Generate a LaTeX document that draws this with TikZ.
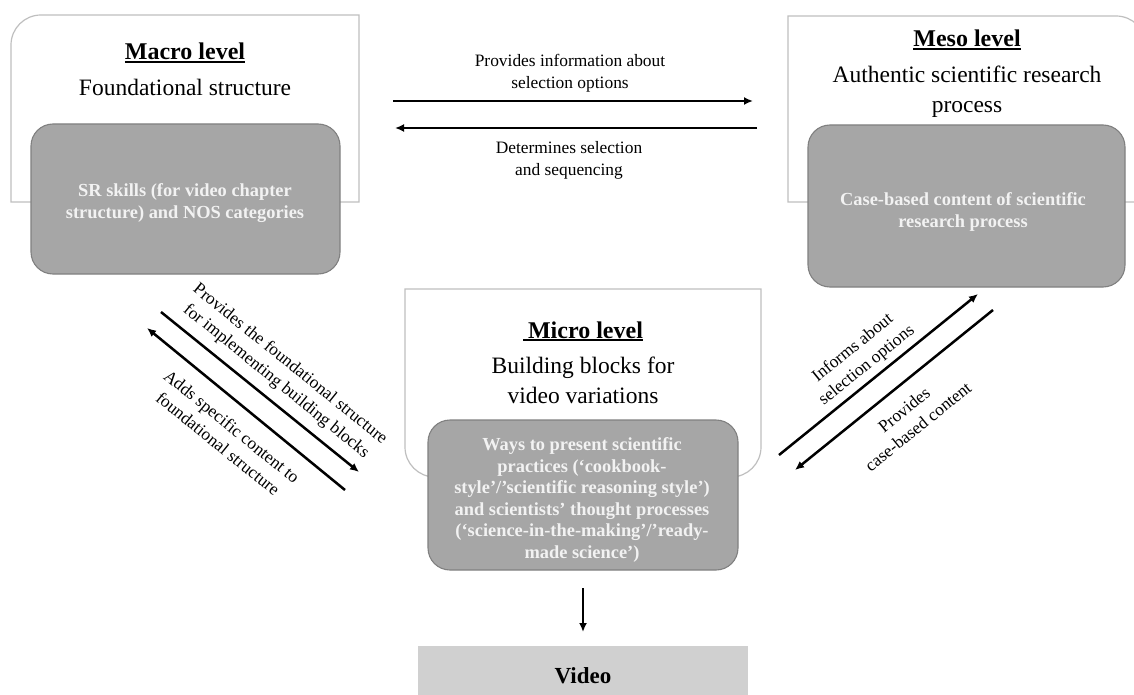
\documentclass[tikz,border=0pt]{standalone}
\usepackage{fontspec}
\setmainfont{Liberation Serif}
\usetikzlibrary{arrows.meta}
\definecolor{outerline}{HTML}{BFBFBF}
\definecolor{innerfill}{HTML}{A6A6A6}
\definecolor{innerline}{HTML}{808080}
\definecolor{innertext}{HTML}{F2F2F2}
\definecolor{videofill}{HTML}{D0D0D0}
\newcommand{\myul}[1]{\setbox0\hbox{#1}\rlap{\rule[-2.6pt]{\wd0}{1.6pt}}\box0}
\begin{document}
\begin{tikzpicture}[x=1pt,y=-1pt,
 outerbox/.style={draw=outerline,line width=1.2pt,fill=white},
 innerbox/.style={draw=innerline,line width=1.1pt,fill=innerfill,rounded corners=22pt,inner sep=0pt},
 innertxt/.style={text=innertext,font=\fontsize{18.4}{21.5}\selectfont\bfseries,align=center,inner sep=0pt},
 leveltitle/.style={font=\fontsize{24}{28}\selectfont\bfseries,inner sep=0pt,anchor=base},
 subtitle/.style={font=\fontsize{23.5}{30}\selectfont,align=center,inner sep=0pt},
 lbl/.style={font=\fontsize{17.4}{22}\selectfont,align=center,inner sep=0pt},
 arr/.style={line width=2.5pt,-{Latex[length=9pt,width=8pt]}},
]
\useasboundingbox (0,0) rectangle (1134,695);
\clip (0,0) rectangle (1134,695);

% outer boxes
\path[outerbox] (11,202) -- (11,45) .. controls (11,28.4) and (24.4,15) .. (41,15) -- (359,15) -- (359,202) -- cycle;
\path[outerbox] (788,202) -- (788,16) -- (1116,16) .. controls (1132.6,16) and (1146,29.4) .. (1146,46) -- (1146,202) -- cycle;
\path[outerbox] (405,289) -- (405,447) .. controls (405,463.6) and (418.4,477) .. (435,477) -- (731,477) .. controls (747.6,477) and (761,463.6) .. (761,447) -- (761,289) -- cycle;

% titles
\node[leveltitle] (mat) at (185,60) {\myul{Macro level}};
\node[leveltitle,font=\fontsize{23.5}{28}\selectfont] (mas) at (185,96) {Foundational structure};
\node[leveltitle] (met) at (967,47) {\myul{Meso level}};
\node[subtitle] (mes) at (967,92) {Authentic scientific research\\process};
\node[leveltitle] (mit) at (583,338) {\myul{\hspace{5pt}Micro level}};
\node[subtitle] (mis) at (583,380) {Building blocks for\\video variations};

% inner boxes
\node[innerbox,minimum width=309pt,minimum height=150pt] (mab) at (185.5,199) {};
\node[innertxt] (mabt) at (185,203) {SR skills (for video chapter\\structure) and NOS categories};
\node[innerbox,minimum width=317pt,minimum height=162pt] (meb) at (966.5,206) {};
\node[innertxt] (mebt) at (963,212) {Case-based content of scientific\\research process};
\node[innerbox,minimum width=310pt,minimum height=150pt] (mib) at (583,495) {};
\node[innertxt] (mibt) at (582,500) {Ways to present scientific\\practices (‘cookbook-\\style’/’scientific reasoning style’)\\and scientists’ thought processes\\(‘science-in-the-making’/’ready-\\made science’)};

% video
\node[fill=videofill,minimum width=330pt,minimum height=51pt,inner sep=0pt] (vid) at (583,671.5) {};
\node[leveltitle,font=\fontsize{23}{28}\selectfont\bfseries] (vidt) at (583,683) {Video};

% arrow end points
\coordinate (t1a) at (393,101); \coordinate (t1b) at (753,101);
\coordinate (t2a) at (757,128); \coordinate (t2b) at (395,128);
\coordinate (l1a) at (161,312); \coordinate (l1b) at (359,472);
\coordinate (l2a) at (345,490); \coordinate (l2b) at (147,328);
\coordinate (r1a) at (779,455); \coordinate (r1b) at (978,294);
\coordinate (r2a) at (993,310); \coordinate (r2b) at (795,470);
\coordinate (da) at (583,588); \coordinate (db) at (583,632);

\draw[arr] (t1a) -- (t1b);
\draw[arr] (t2a) -- (t2b);
\draw[arr] (l1a) -- (l1b);
\draw[arr] (l2a) -- (l2b);
\draw[arr] (r1a) -- (r1b);
\draw[arr] (r2a) -- (r2b);
\draw[line width=2pt,-{Latex[length=9pt,width=8pt]}] (da) -- (db);

% labels
\node[lbl] (lt1) at (570,73.5) {Provides information about\\selection options};
\node[lbl] (lt2) at (569,160.5) {Determines selection\\and sequencing};
\node[lbl,rotate=-39] (ll1) at (283,373) {Provides the foundational structure\\for implementing building blocks};
\node[lbl,rotate=-39] (ll2) at (225,435) {Adds specific content to\\foundational structure};
\node[lbl,rotate=39] (lr1) at (860,357) {Informs about\\selection options};
\node[lbl,rotate=39] (lr2) at (911,418) {Provides\\case-based content};
\end{tikzpicture}
\end{document}
